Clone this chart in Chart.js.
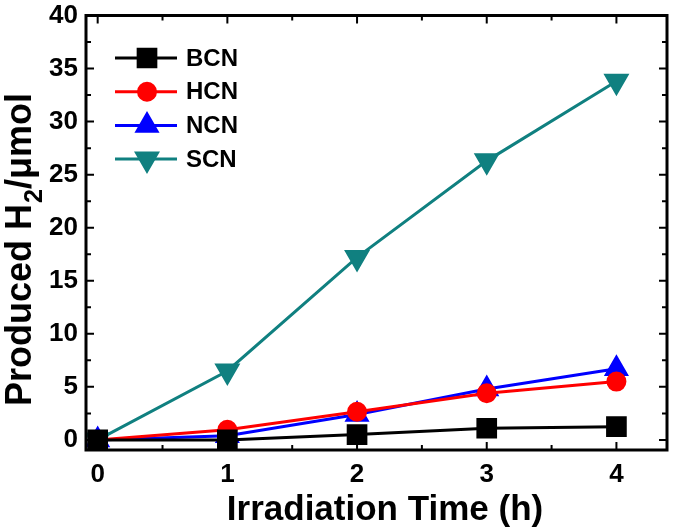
<!DOCTYPE html>
<html>
<head>
<title>Produced H2</title>
<script src="https://cdn.jsdelivr.net/npm/chart.js"></script>
<style>
  body { margin: 0; background: #ffffff; }
  #wrap { width: 685px; height: 527px; }
</style>
</head>
<body>
<div id="wrap"><canvas id="h2Chart" width="685" height="527"></canvas></div>
<script>
var times = [0, 1, 2, 3, 4];
var bcn = [0, 0.0, 0.5, 1.1, 1.25];
var hcn = [0, 0.95, 2.65, 4.4, 5.5];
var ncn = [0, 0.4, 2.4, 4.8, 6.7];
var scn = [0, 6.5, 17.2, 26.3, 33.8];
var seriesNames = ['BCN', 'HCN', 'NCN', 'SCN'];
var xTicks = [0, 1, 2, 3, 4];
var yTicks = [0, 5, 10, 15, 20, 25, 30, 35, 40];

var font = 'Liberation Sans, Arial, sans-serif';

function toPoints(ys) {
  return times.map(function (t, i) { return { x: t, y: ys[i] }; });
}

// frame, inward ticks, legend with line + marker, axis titles
var framePlugin = {
  id: 'frame',
  afterDraw: function (chart) {
    var ctx = chart.ctx, a = chart.chartArea;
    var xs = chart.scales.x, ys = chart.scales.y;
    ctx.save();
    ctx.strokeStyle = '#000';
    ctx.lineWidth = 3;
    ctx.strokeRect(a.left, a.top, a.right - a.left, a.bottom - a.top);
    ctx.lineWidth = 2;
    ctx.beginPath();
    for (var v = 0; v <= 4.4; v += 0.5) {
      var px = xs.getPixelForValue(v);
      var len = (v % 1 === 0) ? 8 : 5;
      ctx.moveTo(px, a.bottom); ctx.lineTo(px, a.bottom - len);
      ctx.moveTo(px, a.top); ctx.lineTo(px, a.top + len);
    }
    for (var w = 0; w <= 40; w += 2.5) {
      var py = ys.getPixelForValue(w);
      var l2 = (w % 5 === 0) ? 8 : 5;
      ctx.moveTo(a.left, py); ctx.lineTo(a.left + l2, py);
      ctx.moveTo(a.right, py); ctx.lineTo(a.right - l2, py);
    }
    ctx.stroke();

    // legend
    var lx = 115, ly = 58, gap = 33.7;
    chart.data.datasets.forEach(function (ds, i) {
      var y = ly + i * gap;
      ctx.strokeStyle = ds.borderColor;
      ctx.lineWidth = 3;
      ctx.beginPath();
      ctx.moveTo(lx, y); ctx.lineTo(lx + 62, y);
      ctx.stroke();
      ctx.fillStyle = ds.backgroundColor;
      Chart.helpers.drawPoint(ctx, {
        pointStyle: ds.pointStyle, radius: ds.pointRadius, rotation: ds.pointRotation || 0, borderWidth: 1
      }, lx + 32, y);
      ctx.fillStyle = '#000';
      ctx.font = 'bold 24px ' + font;
      ctx.textBaseline = 'middle';
      ctx.textAlign = 'left';
      ctx.fillText(ds.label, lx + 71, y + 1);
    });

    // x axis title
    ctx.fillStyle = '#000';
    ctx.font = 'bold 35px ' + font;
    ctx.textAlign = 'center';
    ctx.textBaseline = 'alphabetic';
    ctx.fillText('Irradiation Time (h)', 385, 520);

    // y axis title with subscript 2
    ctx.translate(31, 250);
    ctx.rotate(-Math.PI / 2);
    ctx.textAlign = 'left';
    var big = 'bold 36px ' + font, small = 'bold 25px ' + font;
    var p1 = 'Produced H', p2 = '2', p3 = '/\u03bcmol';
    ctx.font = big; var w1 = ctx.measureText(p1).width, w3 = ctx.measureText(p3).width;
    ctx.font = small; var w2 = ctx.measureText(p2).width;
    var x0 = -(w1 + w2 + w3) / 2;
    ctx.font = big; ctx.fillText(p1, x0, 0);
    ctx.font = small; ctx.fillText(p2, x0 + w1 + 1, 11);
    ctx.font = big; ctx.fillText(p3, x0 + w1 + w2 + 1, 0);
    ctx.restore();
  }
};

function ds(label, ys, color, style, r, rot) {
  return {
    label: label,
    data: toPoints(ys),
    borderColor: color,
    backgroundColor: color,
    pointBackgroundColor: color,
    pointBorderColor: color,
    pointStyle: style,
    pointRotation: rot || 0,
    pointRadius: r,
    pointHoverRadius: r,
    borderWidth: 3,
    tension: 0
  };
}

new Chart(document.getElementById('h2Chart').getContext('2d'), {
  type: 'line',
  data: {
    datasets: [
      ds(seriesNames[0], bcn, '#000000', 'rect', 12.5),
      ds(seriesNames[1], hcn, '#ff0000', 'circle', 8.5),
      ds(seriesNames[2], ncn, '#0000ff', 'triangle', 11.5),
      ds(seriesNames[3], scn, '#108080', 'triangle', 12, 180)
    ]
  },
  options: {
    responsive: false,
    animation: false,
    layout: { padding: { top: 14, right: 18, left: 0, bottom: 0 } },
    plugins: { legend: { display: false }, tooltip: { enabled: false } },
    scales: {
      x: {
        type: 'linear',
        min: -0.09,
        max: 4.39,
        afterBuildTicks: function (s) { s.ticks = xTicks.map(function (v) { return { value: v }; }); },
        afterFit: function (s) { s.height = 77; s.paddingLeft = 0; s.paddingRight = 0; },
        grid: { display: false, drawTicks: false },
        border: { display: false },
        ticks: { color: '#000', font: { family: font, size: 26, weight: 'bold' }, padding: 9 }
      },
      y: {
        type: 'linear',
        min: -0.95,
        max: 40,
        afterBuildTicks: function (s) { s.ticks = yTicks.map(function (v) { return { value: v }; }); },
        afterFit: function (s) { s.width = 86; s.paddingTop = 0; s.paddingBottom = 0; },
        grid: { display: false, drawTicks: false },
        border: { display: false },
        ticks: { color: '#000', font: { family: font, size: 26, weight: 'bold' }, padding: 8 }
      }
    }
  },
  plugins: [framePlugin]
});
</script>
</body>
</html>
